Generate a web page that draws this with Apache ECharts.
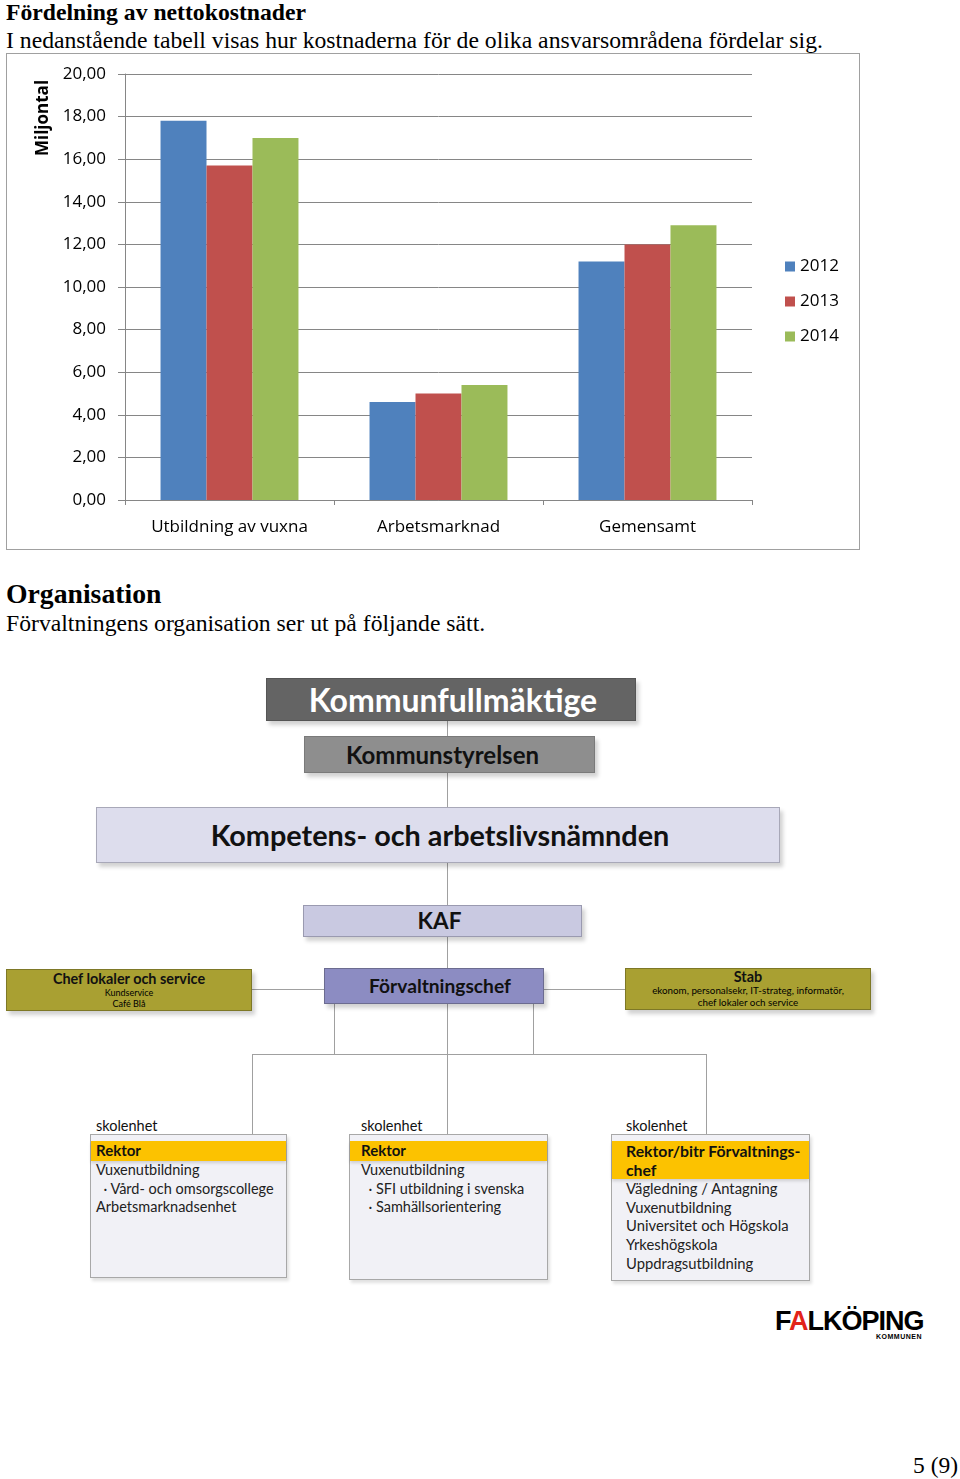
<!DOCTYPE html>
<html><head><meta charset="utf-8">
<script src="https://cdn.jsdelivr.net/npm/echarts@6/dist/echarts.min.js"></script>
<style>
html,body{margin:0;padding:0;background:#fff;}
body{position:relative;width:960px;height:1479px;overflow:hidden;font-family:"Liberation Serif","Times New Roman",serif;color:#000;}
.t{position:absolute;white-space:nowrap;}
.box{position:absolute;box-sizing:border-box;display:flex;align-items:center;justify-content:center;flex-direction:column;font-family:Lato,"Open Sans",sans-serif;line-height:1;}
.ln{position:absolute;background:#a0a0a0;}
.org{font-family:Lato,"Open Sans",sans-serif;}
</style></head>
<body>
<div class="t" style="left:6px;top:-1px;font-size:23.7px;font-weight:bold;line-height:26px;">Fördelning av nettokostnader</div>
<div class="t" style="left:6px;top:27px;font-size:23.7px;line-height:26px;">I nedanstående tabell visas hur kostnaderna för de olika ansvarsområdena fördelar sig.</div>

<div style="position:absolute;left:6px;top:53px;width:852px;height:495px;border:1px solid #a0a0a0;">
  <div id="chart" style="width:852px;height:495px;"></div>
</div>

<div class="t" style="left:6px;top:578px;font-size:27.7px;font-weight:bold;line-height:32px;">Organisation</div>
<div class="t" style="left:6px;top:610px;font-size:23.7px;line-height:26px;">Förvaltningens organisation ser ut på följande sätt.</div>

<div id="org"></div>

<div class="t" style="left:775px;top:1306px;font-family:'Liberation Sans',Arial,sans-serif;font-weight:900;font-size:27px;letter-spacing:-1px;line-height:30px;">F<span style="color:#e2231a">A</span>LKÖPING</div>
<div class="t" style="left:876px;top:1333px;font-family:'Liberation Sans',Arial,sans-serif;font-weight:bold;font-size:7px;line-height:8px;letter-spacing:0.5px;">KOMMUNEN</div>

<div class="t" style="left:913px;top:1452px;font-size:23.5px;line-height:26px;">5 (9)</div>

<script>
// ---- chart data ----
var categories = ['Utbildning av vuxna', 'Arbetsmarknad', 'Gemensamt'];
var seriesNames = ['2012', '2013', '2014'];
var values2012 = [17.8, 4.6, 11.2];
var values2013 = [15.7, 5.0, 12.0];
var values2014 = [17.0, 5.4, 12.9];
var yTicks = [0, 2, 4, 6, 8, 10, 12, 14, 16, 18, 20];
var colors = ['#4f81bd', '#c0504d', '#9bbb59'];

var chart = echarts.init(document.getElementById('chart'), null, {renderer: 'canvas'});
var lbl = {fontFamily: '"Open Sans", Lato, sans-serif', fontSize: 17, color: '#000'};
var allVals = [values2012, values2013, values2014];
chart.setOption({
  animation: false,
  color: colors,
  grid: {left: 118, top: 20, right: 107, bottom: 49, containLabel: false},
  legend: {
    orient: 'vertical', left: 773, top: 199, itemWidth: 10, itemHeight: 10, itemGap: 18,
    icon: 'rect', data: seriesNames, textStyle: lbl, selectedMode: false
  },
  xAxis: {
    type: 'category', data: categories,
    axisLine: {lineStyle: {color: '#868686', width: 1}},
    axisTick: {show: true, length: 5, lineStyle: {color: '#868686'}},
    axisLabel: Object.assign({margin: 19}, lbl),
    splitLine: {show: false}
  },
  yAxis: {
    type: 'value', min: yTicks[0], max: yTicks[yTicks.length - 1], interval: 2,
    axisLine: {show: true, lineStyle: {color: '#868686', width: 1}},
    axisTick: {show: true, length: 7, lineStyle: {color: '#868686'}},
    axisLabel: Object.assign({margin: 19, formatter: function (v) { return v.toFixed(2).replace('.', ','); }}, lbl),
    splitLine: {show: true, lineStyle: {color: '#868686', width: 1}}
  },
  graphic: [{
    type: 'text', x: 36, y: 64, rotation: Math.PI / 2,
    style: {text: 'Miljontal', font: 'bold 17px "Open Sans", Lato, sans-serif', fill: '#000', textAlign: 'center', textVerticalAlign: 'middle'}
  }],
  series: seriesNames.map(function (n, i) {
    return {name: n, type: 'bar', data: allVals[i], barGap: '0%', barCategoryGap: '34%'};
  })
});

// ---- org chart (static diagram) ----
var org = document.getElementById('org');
function line(x, y, w, h) {
  var d = document.createElement('div'); d.className = 'ln';
  d.style.cssText = 'left:' + x + 'px;top:' + y + 'px;width:' + w + 'px;height:' + h + 'px;';
  org.appendChild(d);
}
function box(x, y, w, h, bg, border, html, extra) {
  var d = document.createElement('div'); d.className = 'box';
  d.style.cssText = 'left:' + x + 'px;top:' + y + 'px;width:' + w + 'px;height:' + h + 'px;background:' + bg + ';border:1px solid ' + border + ';box-shadow:3px 4px 4px rgba(0,0,0,0.18);' + (extra || '');
  d.innerHTML = html;
  org.appendChild(d);
}
// connectors
line(447, 721, 1, 190);
line(447, 937, 1, 32);
line(252, 989, 72, 1);
line(544, 989, 81, 1);
line(334, 1004, 1, 50);
line(533, 1004, 1, 50);
line(447, 1004, 1, 130);
line(252, 1054, 455, 1);
line(252, 1054, 1, 80);
line(706, 1054, 1, 80);

box(266, 678, 370, 43, '#646464', '#555', '<span style="color:#fff;font-size:32px;font-weight:bold;position:relative;left:2px;">Kommunfullmäktige</span>');
box(304, 736, 291, 37, '#8e8e8e', '#7a7a7a', '<span style="color:#111;font-size:24px;font-weight:bold;position:relative;left:-7px;">Kommunstyrelsen</span>');
box(96, 807, 684, 56, '#dddded', '#a8a8b8', '<span style="color:#111;font-size:28.8px;font-weight:bold;position:relative;left:2px;">Kompetens- och arbetslivsnämnden</span>');
box(303, 905, 279, 32, '#c9c9e1', '#9a9ab0', '<span style="color:#111;font-size:22.5px;font-weight:bold;position:relative;left:-3px;">KAF</span>');
box(324, 968, 220, 36, '#8c8cc2', '#6c6c90', '<span style="color:#111;font-size:19.2px;font-weight:bold;position:relative;left:6px;">Förvaltningschef</span>');
box(6, 969, 246, 42, '#a9a032', '#7e7826', '<span style="color:#111;font-size:14.4px;font-weight:bold;">Chef lokaler och service</span><span style="font-size:9px;margin-top:2px;">Kundservice</span><span style="font-size:9px;margin-top:2px;">Café Blå</span>');
box(625, 968, 246, 42, '#a9a032', '#7e7826', '<span style="color:#111;font-size:14.4px;font-weight:bold;">Stab</span><span style="font-size:9.8px;margin-top:2px;">ekonom, personalsekr, IT-strateg, informatör,</span><span style="font-size:9.8px;margin-top:2px;">chef lokaler och service</span>');

function unit(x, w, h, pad, head, headH, headFs, fs, lines) {
  var l = document.createElement('div'); l.className = 't org';
  l.style.cssText = 'left:' + (x + pad) + 'px;top:1117px;font-size:14.5px;line-height:18px;color:#111;';
  l.textContent = 'skolenhet'; org.appendChild(l);
  var d = document.createElement('div');
  d.className = 'org';
  d.style.cssText = 'position:absolute;box-sizing:border-box;left:' + x + 'px;top:1134px;width:' + w + 'px;height:' + h + 'px;background:#f1f1f6;border:1px solid #a8a8a8;box-shadow:2px 3px 3px rgba(0,0,0,0.12);';
  var hd = '<div style="margin-top:6px;background:#fcc200;height:' + headH + 'px;padding-left:' + (pad - 1) + 'px;font-size:' + headFs + 'px;font-weight:bold;line-height:19px;color:#111;box-shadow:0 2px 3px rgba(0,0,0,0.15);">' + head + '</div>';
  var body = '<div style="padding-left:' + (pad - 1) + 'px;font-size:' + fs + 'px;line-height:18.7px;color:#222;white-space:pre;">' + lines.join('\n') + '</div>';
  d.innerHTML = hd + body;
  org.appendChild(d);
}
unit(90, 197, 144, 6, 'Rektor', 20, 15, 14.5, ['Vuxenutbildning', '  · Vård- och omsorgscollege', 'Arbetsmarknadsenhet']);
unit(349, 199, 146, 12, 'Rektor', 20, 15, 14.5, ['Vuxenutbildning', '  · SFI utbildning i svenska', '  · Samhällsorientering']);
unit(611, 199, 147, 15, 'Rektor/bitr Förvaltnings-<br>chef', 38, 15.8, 14.8, ['Vägledning / Antagning', 'Vuxenutbildning', 'Universitet och Högskola', 'Yrkeshögskola', 'Uppdragsutbildning']);
</script>
</body></html>
